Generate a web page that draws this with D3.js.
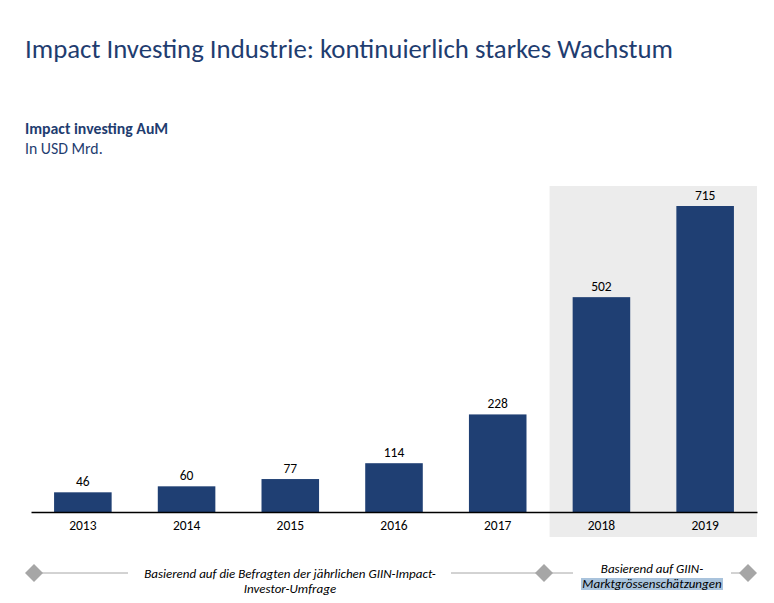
<!DOCTYPE html>
<html>
<head>
<meta charset="utf-8">
<script src="https://cdn.jsdelivr.net/npm/d3@7"></script>
<style>
  body { margin: 0; background: #fff; }
  svg text { font-family: Carlito, Calibri, Lato, sans-serif; }
</style>
</head>
<body>
<div id="chart"></div>
<script>
// chart values
const years = ["2013", "2014", "2015", "2016", "2017", "2018", "2019"];
const aum = [46, 60, 77, 114, 228, 502, 715];
const estimatedYears = ["2018", "2019"];

const width = 774;
const height = 603;
const navy = "#1f3f73";

const svg = d3.select("#chart")
    .append("svg")
    .attr("width", width)
    .attr("height", height);

// titles
svg.append("text")
    .attr("x", 25).attr("y", 58)
    .style("font-size", "26.8px")
    .style("fill", "#1f3d70")
    .text("Impact Investing Industrie: kontinuierlich starkes Wachstum");

svg.append("text")
    .attr("x", 25).attr("y", 134)
    .style("font-size", "15.8px")
    .style("font-weight", "bold")
    .style("fill", "#1f3d70")
    .text("Impact investing AuM");

svg.append("text")
    .attr("x", 25).attr("y", 154)
    .style("font-size", "15.8px")
    .style("fill", "#1f3d70")
    .text("In USD Mrd.");

// scales
const x = d3.scaleBand()
    .domain(years)
    .range([31, 757])
    .paddingInner(0.445)
    .paddingOuter(0.2225);

const y = d3.scaleLinear()
    .domain([0, 715])
    .range([512, 206]);

// grey background for the estimated years
const firstEst = x(estimatedYears[0]) - x.step() * x.paddingInner() / 2;
svg.append("rect")
    .attr("x", firstEst)
    .attr("y", 186)
    .attr("width", 757 - firstEst)
    .attr("height", 537 - 186)
    .style("fill", "#ececec");

// bars
svg.append("g")
    .selectAll("rect")
    .data(aum)
    .join("rect")
    .attr("x", function(d, i) { return x(years[i]); })
    .attr("y", function(d) { return y(d); })
    .attr("width", x.bandwidth())
    .attr("height", function(d) { return y(0) - y(d); })
    .style("fill", navy);

// value labels
svg.append("g")
    .selectAll("text")
    .data(aum)
    .join("text")
    .attr("x", function(d, i) { return x(years[i]) + x.bandwidth() / 2; })
    .attr("y", function(d) { return y(d) - 6; })
    .attr("text-anchor", "middle")
    .style("font-size", "13.5px")
    .style("fill", "#000")
    .text(function(d) { return d; });

// x axis
const axis = svg.append("g")
    .attr("transform", "translate(0,512)")
    .call(d3.axisBottom(x).tickSize(0).tickPadding(8));
axis.select(".domain").attr("stroke", "#000").attr("stroke-width", 1.3);
axis.selectAll("text")
    .style("font-size", "13.5px")
    .style("font-family", "Carlito, Calibri, Lato, sans-serif")
    .style("fill", "#000");

// bottom source notes
const noteY = 573;
const grey = "#a6a6a6";
const segments = [[34, 128], [451, 573], [731, 748]];
svg.append("g")
    .selectAll("line")
    .data(segments)
    .join("line")
    .attr("x1", function(d) { return d[0]; })
    .attr("x2", function(d) { return d[1]; })
    .attr("y1", noteY).attr("y2", noteY)
    .style("stroke", grey)
    .style("stroke-width", 1);

const diamonds = [34, 544, 748];
svg.append("g")
    .selectAll("path")
    .data(diamonds)
    .join("path")
    .attr("d", function(d) {
        return "M" + d + "," + (noteY - 9) + "L" + (d + 9) + "," + noteY +
               "L" + d + "," + (noteY + 9) + "L" + (d - 9) + "," + noteY + "Z";
    })
    .style("fill", grey);

// highlight behind second line of right note
svg.append("rect")
    .attr("x", 581).attr("y", 578)
    .attr("width", 142).attr("height", 12)
    .style("fill", "#a9c3dc");

const notes = [
    { cx: 290, top: 578, lines: ["Basierend auf die Befragten der jährlichen GIIN-Impact-", "Investor-Umfrage"] },
    { cx: 652, top: 573, lines: ["Basierend auf GIIN-", "Marktgrössenschätzungen"] }
];
notes.forEach(function(n) {
    svg.append("g")
        .selectAll("text")
        .data(n.lines)
        .join("text")
        .attr("x", n.cx)
        .attr("y", function(d, i) { return n.top + i * 15; })
        .attr("text-anchor", "middle")
        .style("font-size", "13px")
        .style("font-style", "italic")
        .style("fill", "#000")
        .text(function(d) { return d; });
});
</script>
</body>
</html>
